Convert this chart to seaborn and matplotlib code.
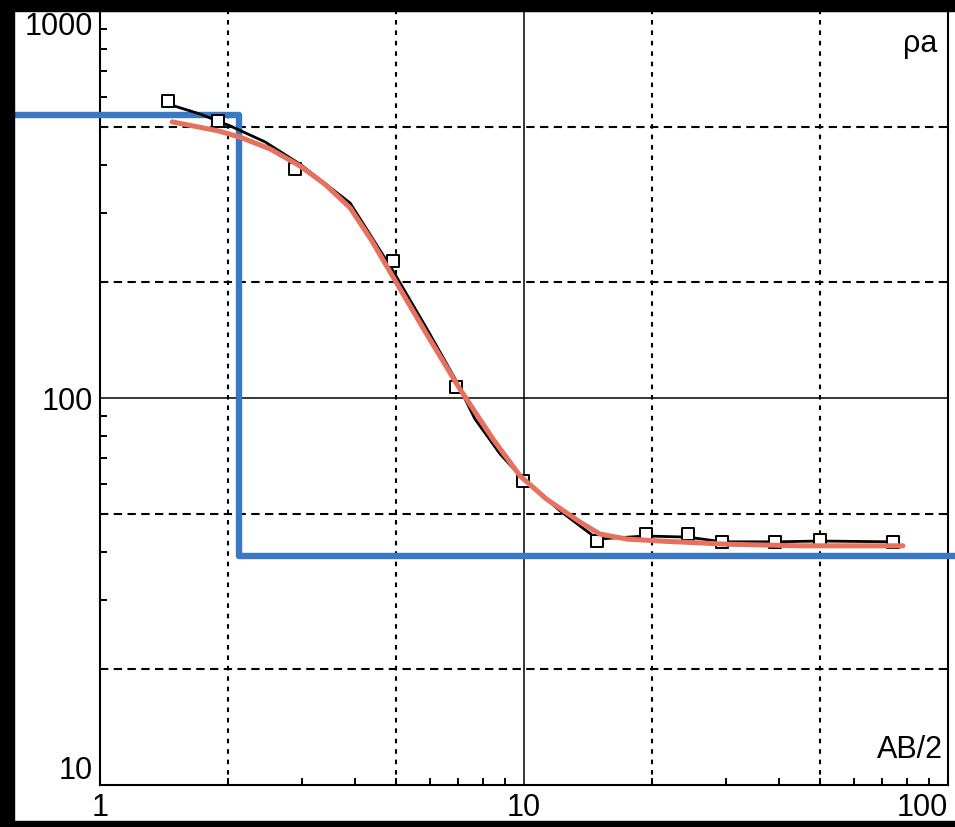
import matplotlib
matplotlib.use("Agg")
import matplotlib.pyplot as plt
from matplotlib.patches import Rectangle
import seaborn as sns
import pandas as pd

# observed apparent resistivity points (squares)
obs_ab2 = [1.45, 1.9, 2.88, 4.9, 6.9, 9.95, 14.9, 19.4, 24.4, 29.3, 39.1, 49.9, 74.2]
obs_rho = [585, 520, 391, 226, 107, 61, 42.7, 44.5, 44.5, 42.5, 42.5, 43, 42.5]

# observed field curve (black)
curve_ab2 = [1.446, 1.72, 2.026, 2.45, 2.963, 3.89, 4.91, 5.9, 6.88, 7.66,
             8.78, 9.95, 12.16, 14.9, 19.4, 24.4, 29.3, 39.1, 49.9, 74.2]
curve_rho = [575, 542, 505, 459, 402, 319, 213, 151, 112, 88.3,
             71.7, 61.8, 51.1, 43.2, 44.0, 43.7, 42.5, 42.5, 42.7, 42.5]

# model response curve (red)
fit_ab2 = [1.48, 1.9, 2.14, 2.52, 2.96, 3.39, 3.89, 4.38, 4.91, 5.9, 7.06,
           8.45, 9.79, 11.3, 13.55, 15.1, 17.5, 20.9, 30.1, 44.8, 78.3]
fit_rho = [517, 490, 472, 440, 398, 357, 310, 254.5, 205.5, 146, 105.5,
           78.3, 62.9, 54.8, 47.8, 44.5, 43.2, 42.7, 41.9, 41.5, 41.5]

# layered model (blue step line)
layer_depth = [0.63, 2.13, 2.13, 105]
layer_rho = [538, 538, 39, 39]

solid_x, solid_y = [10], [100]
dash_x, dash_y = [2, 5, 20, 50], [20, 50, 200, 500]

df_obs = pd.DataFrame({"ab2": obs_ab2, "rho": obs_rho})
df_curve = pd.DataFrame({"ab2": curve_ab2, "rho": curve_rho})
df_fit = pd.DataFrame({"ab2": fit_ab2, "rho": fit_rho})
df_lay = pd.DataFrame({"ab2": layer_depth, "rho": layer_rho})

sns.set_style("ticks")
plt.rcParams["font.family"] = ["Liberation Sans", "DejaVu Sans"]
plt.rcParams["text.color"] = "black"
plt.rcParams["xtick.color"] = "black"
plt.rcParams["ytick.color"] = "black"

fig = plt.figure(figsize=(9.55, 8.28), dpi=100)
ax = fig.add_axes([100 / 955, 1 - 786 / 828, 848 / 955, 774 / 828])
ax.set_xscale("log")
ax.set_yscale("log")

# grid
for v in solid_x:
    ax.axvline(v, color="black", lw=1.1, zorder=1)
for v in solid_y:
    ax.axhline(v, color="black", lw=1.1, zorder=1)
for v in dash_x:
    ax.axvline(v, color="black", lw=1.5, ls=(0, (2.2, 2.8)), zorder=1)
for v in dash_y:
    ax.axhline(v, color="black", lw=1.5, ls=(0, (4, 2.6)), zorder=1)

sns.lineplot(data=df_lay, x="ab2", y="rho", sort=False, estimator=None,
             errorbar=None, color="#3b78c4", lw=4.6, ax=ax, zorder=3)
ax.lines[-1].set_clip_on(False)
sns.lineplot(data=df_curve, x="ab2", y="rho", sort=False, estimator=None,
             errorbar=None, color="black", lw=2.0, ax=ax, zorder=4)
sns.scatterplot(data=df_obs, x="ab2", y="rho", marker="s", s=70,
                facecolor="white", edgecolor="black", linewidth=1.4,
                ax=ax, zorder=5)
sns.lineplot(data=df_fit, x="ab2", y="rho", sort=False, estimator=None,
             errorbar=None, color="#e8705f", lw=3.6, ax=ax, zorder=6)

ax.set_xlim(1, 100)
ax.set_ylim(10, 1000)

# ticks and labels
ax.set_xticks([1, 10, 100])
ax.set_xticklabels(["1", "10", "100"])
ax.set_yticks([10, 100, 1000])
ax.set_yticklabels(["10", "100", "1000"])
ax.tick_params(which="major", length=0, labelsize=22, pad=5,
               labelcolor="black")
ax.tick_params(which="minor", direction="in", length=5, width=1.4,
               color="black", left=True, bottom=True, top=False, right=False)
ylabs = ax.get_yticklabels()
ylabs[0].set_va("bottom")
ylabs[2].set_va("top")
xlabs = ax.get_xticklabels()
xlabs[2].set_ha("right")
ax.set_xlabel("")
ax.set_ylabel("")

for sp in ax.spines.values():
    sp.set_visible(True)
    sp.set_color("black")
    sp.set_linewidth(1.5)

ax.text(0.988, 0.978, "ρa", transform=ax.transAxes, ha="right", va="top",
        fontsize=22)
ax.text(0.994, 0.027, "AB/2", transform=ax.transAxes, ha="right",
        va="bottom", fontsize=22)

# scanned frame border
fig.add_artist(Rectangle((0, 0), 14 / 955, 1, transform=fig.transFigure,
                         color="black", zorder=10))
fig.add_artist(Rectangle((0, 1 - 12 / 828), 1, 12 / 828,
                         transform=fig.transFigure, color="black", zorder=10))
fig.add_artist(Rectangle((0, 0), 1, 6 / 828, transform=fig.transFigure,
                         color="black", zorder=10))

fig.savefig("out.png", dpi=100)
